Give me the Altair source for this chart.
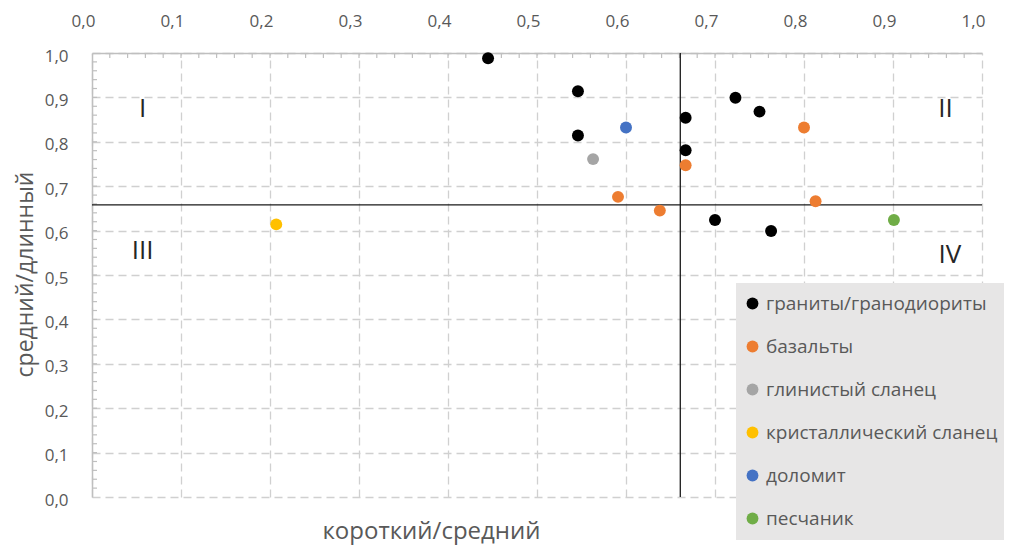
import altair as alt
import pandas as pd

# ---- data ----
categories = ["граниты/гранодиориты", "базальты", "глинистый сланец",
              "кристаллический сланец", "доломит", "песчаник"]
colors = ["#000000", "#ed7d31", "#a5a5a5", "#ffc000", "#4472c4", "#70ad47"]

granite_x = [0.445, 0.546, 0.546, 0.667, 0.667, 0.723, 0.750, 0.700, 0.763]
granite_y = [0.988, 0.914, 0.814, 0.854, 0.781, 0.899, 0.868, 0.624, 0.599]
basalt_x = [0.800, 0.667, 0.591, 0.638, 0.813]
basalt_y = [0.832, 0.747, 0.676, 0.645, 0.666]
shale_x = [0.563]
shale_y = [0.761]
schist_x = [0.207]
schist_y = [0.614]
dolomite_x = [0.600]
dolomite_y = [0.832]
sandstone_x = [0.901]
sandstone_y = [0.624]

cross_x = 0.661
cross_y = 0.658

quadrant_labels = ["I", "II", "III", "IV"]
quadrant_x = [0.057, 0.959, 0.057, 0.964]
quadrant_y = [0.874, 0.874, 0.554, 0.545]

tick_values = [0.0, 0.1, 0.2, 0.3, 0.4, 0.5, 0.6, 0.7, 0.8, 0.9, 1.0]
minor_ticks = [0.02, 0.04, 0.06, 0.08, 0.1, 0.12, 0.14, 0.16, 0.18, 0.2,
               0.22, 0.24, 0.26, 0.28, 0.3, 0.32, 0.34, 0.36, 0.38, 0.4,
               0.42, 0.44, 0.46, 0.48, 0.5, 0.52, 0.54, 0.56, 0.58, 0.6,
               0.62, 0.64, 0.66, 0.68, 0.7, 0.72, 0.74, 0.76, 0.78, 0.8,
               0.82, 0.84, 0.86, 0.88, 0.9, 0.92, 0.94, 0.96, 0.98]

# ---- build tables ----
series = [(categories[0], granite_x, granite_y), (categories[1], basalt_x, basalt_y),
          (categories[2], shale_x, shale_y), (categories[3], schist_x, schist_y),
          (categories[4], dolomite_x, dolomite_y), (categories[5], sandstone_x, sandstone_y)]
rows = []
for name, xs, ys in series:
    for a, b in zip(xs, ys):
        rows.append({"x": a, "y": b, "rock": name})
pts = pd.DataFrame(rows)

ticks_df = pd.DataFrame({"t": minor_ticks})
hline_df = pd.DataFrame({"x": [0.0], "x2": [1.0], "y": [cross_y]})
vline_df = pd.DataFrame({"y": [0.0], "y2": [1.0], "x": [cross_x]})
quad_df = pd.DataFrame({"x": quadrant_x, "y": quadrant_y, "label": quadrant_labels})

GREY = "#595959"
label_expr = "replace(format(datum.value, '.1f'), '.', ',')"

xscale = alt.Scale(domain=[0, 1], nice=False, zero=False)
yscale = alt.Scale(domain=[0, 1], nice=False, zero=False)

xaxis = alt.Axis(orient="top", values=tick_values, labelExpr=label_expr, ticks=False,
                 domainColor="#bfbfbf", domainWidth=1.5, grid=True, gridDash=[8, 5],
                 gridColor="#d0d0d0", gridWidth=1.3, labelFontSize=17, labelColor=GREY,
                 labelPadding=23, labelOffset=-9, labelFlush=False,
                 title="короткий/средний", titleX=339, titleY=485, titleAlign="center",
                 titleBaseline="alphabetic", titleFontSize=24, titleFontWeight="normal",
                 titleColor=GREY, titleAngle=0)
yaxis = alt.Axis(orient="left", values=tick_values, labelExpr=label_expr, ticks=False,
                 domainColor="#bfbfbf", domainWidth=1.5, grid=True, gridDash=[8, 5],
                 gridColor="#d0d0d0", gridWidth=1.3, labelFontSize=17, labelColor=GREY,
                 labelPadding=24, labelOffset=3, labelFlush=False,
                 title="средний/длинный", titleX=-60, titleY=221, titleAlign="center",
                 titleBaseline="alphabetic", titleFontSize=23, titleFontWeight="normal",
                 titleColor=GREY, titleAngle=270)

hline = alt.Chart(hline_df).mark_rule(color="#1a1a1a", strokeWidth=1.3).encode(
    x=alt.X("x:Q", scale=xscale, axis=xaxis),
    x2="x2:Q",
    y=alt.Y("y:Q", scale=yscale, axis=yaxis),
)
vline = alt.Chart(vline_df).mark_rule(color="#1a1a1a", strokeWidth=1.3).encode(
    x=alt.X("x:Q", scale=xscale, axis=xaxis),
    y=alt.Y("y:Q", scale=yscale, axis=yaxis),
    y2="y2:Q",
)
top_ticks = alt.Chart(ticks_df).mark_rule(color="#bfbfbf", strokeWidth=1.2).encode(
    x=alt.X("t:Q", scale=xscale, axis=xaxis),
    y=alt.value(0), y2=alt.value(5),
)
left_ticks = alt.Chart(ticks_df).mark_rule(color="#bfbfbf", strokeWidth=1.2).encode(
    y=alt.Y("t:Q", scale=yscale, axis=yaxis),
    x=alt.value(0), x2=alt.value(5),
)
points = alt.Chart(pts).mark_circle(size=143, opacity=1).encode(
    x=alt.X("x:Q", scale=xscale, axis=xaxis),
    y=alt.Y("y:Q", scale=yscale, axis=yaxis),
    color=alt.Color("rock:N", scale=alt.Scale(domain=categories, range=colors),
                    legend=alt.Legend(orient="none", legendX=644, legendY=230, title=None,
                                      fillColor="#e7e6e6", padding=11, labelFontSize=19,
                                      labelColor=GREY, symbolSize=140, symbolType="circle",
                                      symbolStrokeWidth=0, rowPadding=23, labelOffset=4,
                                      symbolOffset=-4, labelLimit=0)),
)
quads = alt.Chart(quad_df).mark_text(fontSize=26, color="#262626", align="center",
                                     baseline="middle").encode(
    x=alt.X("x:Q", scale=xscale, axis=xaxis),
    y=alt.Y("y:Q", scale=yscale, axis=yaxis),
    text="label:N",
)

chart = alt.layer(top_ticks, left_ticks, hline, vline, quads, points).properties(
    width=890, height=444,
    autosize=alt.AutoSizeParams(type="none"),
    padding={"left": 84, "top": 45, "right": 22, "bottom": 48},
).configure(font="Open Sans").configure_view(strokeWidth=0)

chart.save("out.html", embed_options={"renderer": "svg", "actions": False})
